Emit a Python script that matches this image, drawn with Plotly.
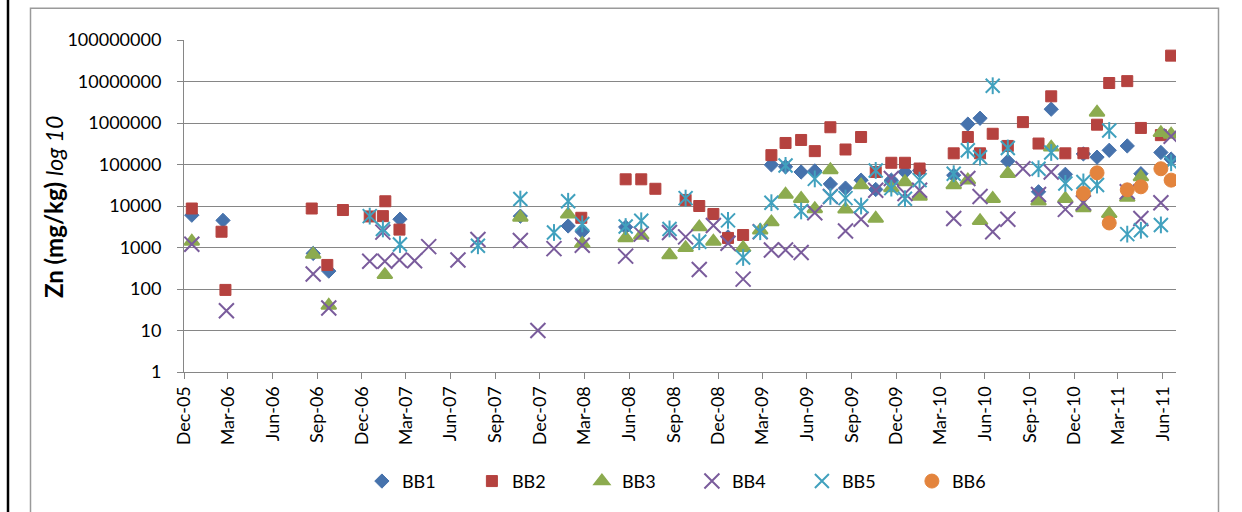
import plotly.graph_objects as go

# Zn concentrations (mg/kg) per sampling date for each monitoring point
bb1_dates = ["2005-12-17", "2006-02-19", "2006-08-23", "2006-09-24", "2007-02-17", "2007-10-22",
             "2008-01-28", "2008-02-26", "2008-05-25", "2008-12-21", "2009-03-20", "2009-04-18",
             "2009-05-20", "2009-06-17", "2009-07-19", "2009-08-19", "2009-09-20", "2009-10-20",
             "2009-11-21", "2009-12-19", "2010-01-18", "2010-03-29", "2010-04-27", "2010-05-22",
             "2010-07-18", "2010-09-19", "2010-10-15", "2010-11-13", "2010-12-20", "2011-01-17",
             "2011-02-11", "2011-03-20", "2011-04-17", "2011-05-28", "2011-06-18"]
bb1_values = [6000, 4500, 720, 270, 4800, 5700,
              3300, 2400, 3100, 1800, 98000, 88000,
              66000, 70000, 34000, 27000, 42000, 25000,
              42000, 66000, 72000, 55000, 940000, 1300000,
              120000, 22000, 2150000, 58000, 180000, 150000,
              220000, 280000, 60000, 195000, 135000]

bb2_dates = ["2005-12-17", "2006-02-16", "2006-02-24", "2006-08-20", "2006-09-21", "2006-10-23",
             "2006-12-17", "2007-01-13", "2007-01-18", "2007-02-16", "2008-02-24", "2008-05-25",
             "2008-06-26", "2008-07-25", "2008-09-25", "2008-10-23", "2008-11-21", "2008-12-21",
             "2009-01-21", "2009-03-20", "2009-04-18", "2009-05-20", "2009-06-17", "2009-07-19",
             "2009-08-19", "2009-09-20", "2009-10-20", "2009-11-21", "2009-12-19", "2010-01-18",
             "2010-03-29", "2010-04-27", "2010-05-22", "2010-06-17", "2010-07-18", "2010-08-18",
             "2010-09-19", "2010-10-15", "2010-11-13", "2010-12-20", "2011-01-17", "2011-02-11",
             "2011-03-20", "2011-04-17", "2011-05-28", "2011-06-18"]
bb2_values = [8700, 2400, 95, 8700, 380, 8000,
              5600, 5700, 13000, 2700, 5200, 44000,
              44000, 26000, 14000, 10000, 6400, 1700,
              2000, 168000, 330000, 390000, 210000, 790000,
              230000, 460000, 66000, 110000, 110000, 80000,
              186000, 460000, 186000, 550000, 280000, 1050000,
              320000, 4400000, 186000, 187000, 910000, 9200000,
              10200000, 760000, 510000, 42000000]

bb3_dates = ["2005-12-17", "2006-08-23", "2006-09-24", "2007-01-17", "2007-10-22", "2008-01-28",
             "2008-02-26", "2008-05-25", "2008-06-26", "2008-08-23", "2008-09-25", "2008-10-23",
             "2008-11-21", "2009-01-21", "2009-02-25", "2009-03-20", "2009-04-18", "2009-05-20",
             "2009-06-17", "2009-07-19", "2009-08-19", "2009-09-20", "2009-10-20", "2009-11-21",
             "2009-12-19", "2010-01-18", "2010-03-29", "2010-04-27", "2010-05-22", "2010-06-17",
             "2010-07-18", "2010-09-19", "2010-10-15", "2010-11-13", "2010-12-20", "2011-01-17",
             "2011-02-11", "2011-03-20", "2011-04-17", "2011-05-28", "2011-06-18"]
bb3_values = [1400, 680, 40, 220, 5300, 6300,
              1240, 1700, 1950, 660, 980, 3100,
              1400, 980, 2600, 4100, 19000, 15000,
              8500, 74000, 8300, 32000, 5000, 27000,
              38000, 17000, 32000, 42000, 4400, 15000,
              60000, 13000, 260000, 15000, 9000, 1800000,
              6500, 16000, 50000, 580000, 530000]

bb4_dates = ["2005-12-17", "2006-02-26", "2006-08-23", "2006-09-24", "2006-12-17", "2007-01-13",
             "2007-01-17", "2007-02-16", "2007-03-19", "2007-04-17", "2007-06-16", "2007-07-27",
             "2007-10-22", "2007-11-27", "2007-12-30", "2008-02-26", "2008-05-25", "2008-06-26",
             "2008-08-23", "2008-09-25", "2008-10-23", "2008-11-21", "2008-12-21", "2009-01-21",
             "2009-02-25", "2009-03-20", "2009-04-18", "2009-05-20", "2009-06-17", "2009-07-19",
             "2009-08-19", "2009-09-20", "2009-10-20", "2009-11-21", "2009-12-19", "2010-01-18",
             "2010-03-29", "2010-04-27", "2010-05-22", "2010-06-17", "2010-07-18", "2010-08-18",
             "2010-09-19", "2010-10-15", "2010-11-13", "2010-12-20", "2011-03-20", "2011-04-17",
             "2011-05-28", "2011-06-18"]
bb4_values = [1200, 30, 230, 35, 465, 2350,
              465, 500, 480, 1050, 500, 1560,
              1480, 10, 940, 1130, 620, 2100,
              2300, 1800, 296, 3400, 1260, 173,
              2400, 870, 870, 760, 6900, 17000,
              2500, 4800, 24000, 46000, 20000, 24000,
              5000, 46000, 17000, 2400, 4800, 79000,
              19000, 66000, 8300, 12000, 22000, 5000,
              12000, 480000]

bb5_dates = ["2006-12-17", "2007-01-13", "2007-02-17", "2007-07-27", "2007-10-22", "2007-12-30",
             "2008-01-28", "2008-02-26", "2008-05-25", "2008-06-26", "2008-08-23", "2008-09-25",
             "2008-10-23", "2008-12-21", "2009-01-21", "2009-02-25", "2009-03-20", "2009-04-18",
             "2009-05-20", "2009-06-17", "2009-07-19", "2009-08-19", "2009-09-20", "2009-10-20",
             "2009-11-21", "2009-12-19", "2010-01-18", "2010-03-29", "2010-04-27", "2010-05-22",
             "2010-06-17", "2010-07-18", "2010-09-19", "2010-10-15", "2010-11-13", "2010-12-20",
             "2011-01-17", "2011-02-11", "2011-03-20", "2011-04-17", "2011-05-28", "2011-06-18"]
bb5_values = [5700, 2800, 1180, 1100, 14700, 2300,
              13000, 3700, 3200, 4400, 2800, 15500,
              1380, 4500, 575, 2400, 12000, 95000,
              7600, 45000, 17000, 15500, 10000, 72000,
              27000, 15000, 42000, 60000, 220000, 150000,
              7900000, 250000, 79000, 195000, 35000, 38000,
              32000, 660000, 2100, 2600, 3500, 110000]

bb6_dates = ["2010-12-20", "2011-01-17", "2011-02-11", "2011-03-20", "2011-04-17", "2011-05-28",
             "2011-06-18"]
bb6_values = [20000, 63000, 3900, 24500, 29000, 79000, 42000]

y_tick_values = [1, 10, 100, 1000, 10000, 100000, 1000000, 10000000, 100000000]
y_tick_labels = ["1", "10", "100", "1000", "10000", "100000", "1000000", "10000000", "100000000"]

FONT = "Lato"
GRID = "#868686"

# plot-area placement in the 1242x512 page
L, R, T, B = 184, 66, 40, 132
PW, PH = 1242 - L - R, 512 - T - B


def px_x(p):
    return (p - L) / PW


def px_y(p):
    return (512 - B - p) / PH


fig = go.Figure()

fig.add_trace(go.Scatter(
    x=bb1_dates, y=bb1_values, name="BB1", mode="markers",
    marker=dict(symbol="diamond", size=11, color="#4672AC",
                line=dict(color="#4672AC", width=1))))
fig.add_trace(go.Scatter(
    x=bb2_dates, y=bb2_values, name="BB2", mode="markers",
    marker=dict(symbol="square", size=11, color="#B5423F",
                line=dict(color="#B5423F", width=1))))
fig.add_trace(go.Scatter(
    x=bb3_dates, y=bb3_values, name="BB3", mode="markers",
    marker=dict(symbol="triangle-up", size=13, color="#8CAB4F",
                line=dict(color="#8CAB4F", width=2))))
fig.add_trace(go.Scatter(
    x=bb4_dates, y=bb4_values, name="BB4", mode="markers",
    marker=dict(symbol="x-thin-open", size=15, color="#7A5C9C",
                line=dict(color="#7A5C9C", width=2))))
# BB5 star: diagonal cross plus a vertical stroke
fig.add_trace(go.Scatter(
    x=bb5_dates, y=bb5_values, name="BB5", mode="markers",
    marker=dict(symbol="x-thin-open", size=14, color="#41A1BE",
                line=dict(color="#41A1BE", width=2))))
fig.add_trace(go.Scatter(
    x=bb5_dates, y=bb5_values, name="BB5 stroke", mode="markers",
    showlegend=False,
    marker=dict(symbol="line-ns", size=12, color="#41A1BE",
                line=dict(color="#41A1BE", width=2))))
fig.add_trace(go.Scatter(
    x=bb6_dates, y=bb6_values, name="BB6", mode="markers",
    marker=dict(symbol="circle", size=14, color="#E3843D",
                line=dict(color="#E3843D", width=1))))

fig.update_layout(
    width=1242, height=512,
    margin=dict(l=L, r=R, t=T, b=B, pad=0),
    paper_bgcolor="white", plot_bgcolor="white",
    font=dict(family=FONT, size=18, color="black"),
    showlegend=True,
    legend=dict(orientation="h", x=0.512, xanchor="center", y=px_y(492), yanchor="middle",
                font=dict(family=FONT, size=18, color="black"),
                entrywidth=65, entrywidthmode="pixels", itemwidth=30,
                bgcolor="rgba(0,0,0,0)"),
    xaxis=dict(
        type="date", range=["2005-12-01", "2011-06-28"],
        tick0="2005-12-01", dtick="M3", tickformat="%b-%y", tickangle=-90,
        ticks="outside", ticklen=6, tickcolor=GRID, tickwidth=1,
        showline=True, linecolor=GRID, linewidth=1,
        showgrid=False, zeroline=False,
        tickfont=dict(family=FONT, size=18, color="black"),
    ),
    yaxis=dict(
        type="log", range=[0, 8],
        tickvals=y_tick_values, ticktext=y_tick_labels,
        ticks="outside", ticklen=6, tickcolor=GRID, tickwidth=1,
        ticklabelstandoff=12,
        showline=True, linecolor=GRID, linewidth=1,
        showgrid=True, gridcolor=GRID, gridwidth=1,
        zeroline=False,
        tickfont=dict(family=FONT, size=18, color="black"),
    ),
    annotations=[dict(
        text="<b><span style='font-size:24px'>Zn (mg/kg)</span></b> <i>log 10</i>",
        xref="paper", yref="paper", x=px_x(54), y=px_y(211),
        xanchor="center", yanchor="middle", textangle=-90, showarrow=False,
        font=dict(family=FONT, size=23, color="black"))],
    shapes=[
        # chart frame
        dict(type="rect", xref="paper", yref="paper",
             x0=px_x(30.5), x1=px_x(1218.5), y0=px_y(540), y1=px_y(7.5),
             line=dict(color="#9a9a9a", width=1.5), layer="below"),
        # page edge rule
        dict(type="line", xref="paper", yref="paper",
             x0=px_x(8), x1=px_x(8), y0=px_y(-5), y1=px_y(540),
             line=dict(color="black", width=2.5)),
    ],
)

fig.write_html("out.html")
